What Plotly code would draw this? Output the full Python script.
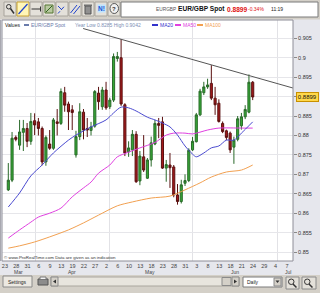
import plotly.graph_objects as go

# ---------------- data ----------------
date_labels = ["23", "28", "31", "6", "9", "13", "19", "22", "27", "2", "6", "10", "13",
               "18", "23", "28", "31", "3", "8", "13", "18", "21", "24", "29", "4", "7"]
month_labels = ["Mar", "Apr", "May", "Jun", "Jul"]
month_label_idx = [2.8, 17.0, 37.7, 60.3, 74.4]
month_start_idx = [7.1, 27.0, 49.1, 71.5]

opens = [0.8660, 0.8685, 0.8795, 0.8775, 0.8808, 0.8818, 0.8785, 0.8838, 0.8835, 0.8818,
         0.8732, 0.8778, 0.8767, 0.8835, 0.8831, 0.8910, 0.8881, 0.8866, 0.8750, 0.8797,
         0.8860, 0.8818, 0.8813, 0.8824, 0.8909, 0.8874, 0.8917, 0.8874, 0.8891, 0.8998,
         0.9000, 0.8879, 0.8758, 0.8763, 0.8803, 0.8683, 0.8745, 0.8690, 0.8737, 0.8778,
         0.8831, 0.8835, 0.8716, 0.8724, 0.8719, 0.8647, 0.8630, 0.8677, 0.8684, 0.8763,
         0.8784, 0.8853, 0.8910, 0.8925, 0.8934, 0.8896, 0.8883, 0.8831, 0.8812, 0.8806,
         0.8770, 0.8790, 0.8825, 0.8848, 0.8860, 0.8937]
highs = [0.8729, 0.8809, 0.8800, 0.8840, 0.8840, 0.8832, 0.8858, 0.8857, 0.8845, 0.8823,
         0.8800, 0.8814, 0.8845, 0.8868, 0.8921, 0.8925, 0.8887, 0.8878, 0.8812, 0.8883,
         0.8868, 0.8845, 0.8835, 0.8917, 0.8925, 0.8925, 0.8938, 0.8897, 0.9011, 0.9015,
         0.9048, 0.8883, 0.8785, 0.8814, 0.8811, 0.8760, 0.8801, 0.8742, 0.8797, 0.8840,
         0.8845, 0.8848, 0.8737, 0.8755, 0.8724, 0.8675, 0.8686, 0.8700, 0.8767, 0.8796,
         0.8858, 0.8920, 0.8938, 0.8946, 0.8981, 0.8925, 0.8893, 0.8836, 0.8815, 0.8810,
         0.8797, 0.8850, 0.8858, 0.8878, 0.8957, 0.8940]
lows = [0.8657, 0.8680, 0.8785, 0.8763, 0.8760, 0.8770, 0.8776, 0.8801, 0.8800, 0.8723,
        0.8722, 0.8763, 0.8763, 0.8800, 0.8827, 0.8861, 0.8814, 0.8814, 0.8743, 0.8788,
        0.8790, 0.8796, 0.8800, 0.8820, 0.8866, 0.8866, 0.8866, 0.8868, 0.8886, 0.8990,
        0.8876, 0.8747, 0.8745, 0.8747, 0.8678, 0.8672, 0.8706, 0.8688, 0.8720, 0.8775,
        0.8793, 0.8714, 0.8681, 0.8665, 0.8641, 0.8622, 0.8625, 0.8670, 0.8680, 0.8760,
        0.8782, 0.8850, 0.8904, 0.8920, 0.8891, 0.8853, 0.8833, 0.8806, 0.8788, 0.8755,
        0.8727, 0.8785, 0.8815, 0.8842, 0.8857, 0.8891]
closes = [0.8685, 0.8793, 0.8790, 0.8809, 0.8818, 0.8785, 0.8836, 0.8827, 0.8818, 0.8732,
          0.8795, 0.8767, 0.8840, 0.8831, 0.8913, 0.8878, 0.8861, 0.8859, 0.8797, 0.8861,
          0.8814, 0.8814, 0.8822, 0.8913, 0.8887, 0.8917, 0.8871, 0.8891, 0.9003, 0.9003,
          0.8881, 0.8755, 0.8768, 0.8803, 0.8681, 0.8747, 0.8711, 0.8737, 0.8781, 0.8831,
          0.8826, 0.8716, 0.8725, 0.8717, 0.8647, 0.8630, 0.8673, 0.8684, 0.8762, 0.8785,
          0.8853, 0.8914, 0.8925, 0.8930, 0.8896, 0.8879, 0.8836, 0.8810, 0.8795, 0.8763,
          0.8788, 0.8843, 0.8848, 0.8867, 0.8937, 0.8899]

ma20_idx = [0, 3, 6, 9, 12, 16, 18, 22, 26, 28, 30, 32, 34, 37, 39, 41, 43, 45, 47, 49,
            50, 52, 54, 56, 58, 60, 62, 65]
ma20_val = [0.8616, 0.8652, 0.8696, 0.8724, 0.8755, 0.8788, 0.8801, 0.8822, 0.8840, 0.8858,
            0.8873, 0.8871, 0.8863, 0.8847, 0.8840, 0.8832, 0.8822, 0.8801, 0.8773, 0.8752,
            0.8745, 0.8755, 0.8768, 0.8773, 0.8788, 0.8788, 0.8806, 0.8835]

ma50_idx = [0, 3, 6, 8, 11, 14, 17, 20, 22, 24, 27, 29, 32, 35, 39, 42, 44, 47, 49, 53,
            56, 62, 65]
ma50_val = [0.8536, 0.8557, 0.8577, 0.8590, 0.8600, 0.8613, 0.8642, 0.8665, 0.8680, 0.8703,
            0.8724, 0.8745, 0.8757, 0.8768, 0.8782, 0.8801, 0.8806, 0.8806, 0.8804, 0.8814,
            0.8819, 0.8819, 0.8819]

ma100_idx = [0, 3, 7, 11, 16, 20, 24, 29, 33, 38, 43, 47, 51, 54, 58, 62, 65]
ma100_val = [0.8510, 0.8516, 0.8526, 0.8539, 0.8557, 0.8575, 0.8595, 0.8619, 0.8629, 0.8639,
             0.8644, 0.8660, 0.8678, 0.8693, 0.8706, 0.8711, 0.8724]

trend_idx = [19.9, 75.7]
trend_val = [0.90752, 0.89221]

y_ticks = [0.85, 0.855, 0.86, 0.865, 0.87, 0.875, 0.88, 0.885, 0.89, 0.895, 0.9, 0.905]
# the 0.89 label is hidden behind the last-price box in the reference
y_ticktext = ["0.85", "0.855", "0.86", "0.865", "0.87", "0.875", "0.88", "0.885", "",
              "0.895", "0.9", "0.905"]
last_price = 0.8899

# ---------------- layout geometry ----------------
W, H = 320, 293
ML, MR, MT, MB = 2, 27, 20, 32
PW = W - ML - MR
PH = H - MT - MB


def px(x):
    return (x - ML) / PW


def py(y):
    return (MT + PH - y) / PH


FONT = "Liberation Sans, Arial, sans-serif"
shapes = []
annots = []


def rect(x0, y0, x1, y1, fill, line=None, lw=1, layer="above"):
    shapes.append(dict(type="rect", xref="paper", yref="paper",
                       x0=px(x0), x1=px(x1), y0=py(y1), y1=py(y0),
                       fillcolor=fill, layer=layer,
                       line=dict(color=line if line else "rgba(0,0,0,0)", width=lw if line else 0)))


def seg(x0, y0, x1, y1, color, lw=1, dash="solid"):
    shapes.append(dict(type="line", xref="paper", yref="paper",
                       x0=px(x0), x1=px(x1), y0=py(y0), y1=py(y1), layer="above",
                       line=dict(color=color, width=lw, dash=dash)))


def circ(x0, y0, x1, y1, color, fill="rgba(0,0,0,0)", lw=1):
    shapes.append(dict(type="circle", xref="paper", yref="paper",
                       x0=px(x0), x1=px(x1), y0=py(y1), y1=py(y0), layer="above",
                       fillcolor=fill, line=dict(color=color, width=lw)))


def tri(pts, color):
    path = "M " + " L ".join(f"{px(a)},{py(b)}" for a, b in pts) + " Z"
    shapes.append(dict(type="path", xref="paper", yref="paper", path=path,
                       fillcolor=color, line=dict(width=0), layer="above"))


def txt(x, y, s, size=5.5, color="#222", anchor="left", bold=False, bg=None, border=None):
    if bold:
        s = "<b>" + s + "</b>"
    a = dict(x=px(x), y=py(y), xref="paper", yref="paper", text=s, showarrow=False,
             xanchor=anchor, yanchor="middle", font=dict(size=size, color=color, family=FONT),
             borderpad=0)
    if bg:
        a["bgcolor"] = bg
    if border:
        a["bordercolor"] = border
        a["borderwidth"] = 1
    annots.append(a)


# ---------------- top toolbar ----------------
rect(0, 0, 320, 19.5, "#d4d0c8")
btn_x = [4, 17, 30, 43, 56, 69, 82, 95, 108]
for k, bx in enumerate(btn_x):
    if k == 1:
        rect(bx, 2, bx + 12, 16, "#fff6b8", "#c8a230")
    else:
        rect(bx, 2, bx + 12, 16, "#e4e1da", "#a8a49c")
# icons
circ(6.5, 4.5, 11, 9, "#333")
seg(10.5, 8.5, 14, 13.5, "#333", 1.5)
seg(18.5, 14, 27.5, 4, "#2244cc", 1.2)
seg(31.5, 9, 40.5, 9, "#333", 1)
seg(40.5, 6.5, 40.5, 11.5, "#333", 1)
rect(45, 5, 53, 13, "#b8c8a0", "#557733")
seg(46, 12, 52, 6, "#336622", 1)
seg(58, 13.5, 66, 4.5, "#2244cc", 1, "dot")
seg(58, 6, 62, 10, "#2244cc", 1)
seg(70.5, 13, 77, 5, "#2244cc", 1)
seg(73.5, 14, 80, 6, "#2244cc", 1)
rect(85, 6, 91, 14, "#909090", "#555")
rect(84, 4.5, 92, 6, "#707070")
txt(101, 9, "N!", 6.5, "#1a55d0", "center", True, bg="#bfe4ff")
circ(110, 3.5, 118.5, 13.5, "#555", "#f0f0f0")
txt(114.3, 8.6, "?", 6, "#333", "center", True)
rect(121, 2, 318, 17, "#ffffff", "#7a7a7a")
txt(155, 9.5, "EURGBP", 4.8, "#555")
txt(177, 9.5, "EUR/GBP Spot", 6.6, "#111", bold=True)
txt(226, 9.5, "0.8899", 6.6, "#e01010", bold=True)
txt(247, 9.5, "-0.34%", 5, "#e01010")
txt(270, 9.5, "11:19", 5, "#222")

# ---------------- legend row ----------------
txt(4, 25, "Values", 5, "#111")
seg(24, 25, 29, 25, "#6a7cab", 2)
txt(30, 25, "EUR/GBP Spot", 5, "#6a7cab")
txt(74, 25, "Year Low 0.8285 High 0.9042", 5, "#7d8fb5")
seg(152, 25, 158, 25, "#3333cc", 2)
txt(159, 25, "MA20", 5, "#3333cc")
seg(175, 25, 181, 25, "#e040e0", 2)
txt(182, 25, "MA50", 5, "#e040e0")
seg(197, 25, 203, 25, "#f2a050", 2)
txt(204, 25, "MA100", 5, "#f2a050")

# footnote
txt(3, 257.5, "© www.ProRealTime.com Data are given as an indication", 4.4, "#333")

# plot frame
rect(2, 20, 293, 261, "rgba(0,0,0,0)", "#8e8e98", 1)
seg(0.5, 20, 0.5, 261, "#a8a8b0", 1)

# month labels (placed on category positions)
for lab, mi in zip(month_labels, month_label_idx):
    annots.append(dict(x=mi, y=py(271.5), xref="x", yref="paper", text=lab,
                       showarrow=False, xanchor="center", yanchor="middle",
                       font=dict(size=5, color="#444", family=FONT)))

# last price label
annots.append(dict(x=px(295.5), y=last_price, xref="paper", yref="y",
                   text=f"{last_price:.4f}", showarrow=False, xanchor="left",
                   yanchor="middle", font=dict(size=6, color="#111", family=FONT),
                   bgcolor="#ffd84a", bordercolor="#c89000", borderwidth=1, borderpad=0.8))

# ---------------- bottom toolbar ----------------
rect(0, 275, 320, 293, "#d4d0c8")
rect(3, 276, 32, 287, "#ece9e2", "#8a8a8a")
txt(17.5, 281.5, "Settings", 5, "#222", "center")
rect(38, 279, 48, 285, "#8c8c8c", "#555")
rect(40, 277, 46, 279.5, "#f4f4f4", "#777")
rect(51, 277, 239, 286, "#e8e5de", "#aaa69e")
rect(51, 277, 58, 286, "#d4d0c8", "#8a8a8a")
tri([(53, 281.5), (56, 279.5), (56, 283.5)], "#333")
rect(232, 277, 239, 286, "#d4d0c8", "#8a8a8a")
tri([(237, 281.5), (234, 279.5), (234, 283.5)], "#333")
rect(222, 277.5, 231, 285.5, "#d4d0c8", "#8a8a8a")
rect(243, 277, 282, 287, "#ffffff", "#7a7a7a")
txt(246, 282, "Daily", 5, "#222")
rect(274, 278, 281, 286, "#d4d0c8", "#8a8a8a")
tri([(275.5, 280.5), (279.5, 280.5), (277.5, 283)], "#333")
rect(286, 277, 299, 289, "#e4e1da", "#8a8a8a")
circ(288.5, 279, 294, 284.5, "#333")
seg(293, 284, 296.5, 287.5, "#333", 1.5)
rect(302, 277, 316, 289, "#e4e1da", "#8a8a8a")
circ(304.5, 279, 310, 284.5, "#333")
seg(309, 284, 312.5, 287.5, "#333", 1.5)

# ---------------- traces ----------------
idx = list(range(len(opens)))
fig = go.Figure()
fig.add_trace(go.Scatter(x=ma100_idx, y=ma100_val, mode="lines",
                         line=dict(color="#f2a050", width=1, shape="spline", smoothing=0.8),
                         hoverinfo="skip"))
fig.add_trace(go.Scatter(x=ma50_idx, y=ma50_val, mode="lines",
                         line=dict(color="#e040e0", width=1, shape="spline", smoothing=0.8),
                         hoverinfo="skip"))
fig.add_trace(go.Scatter(x=ma20_idx, y=ma20_val, mode="lines",
                         line=dict(color="#4a4ad0", width=1, shape="spline", smoothing=0.8),
                         hoverinfo="skip"))
fig.add_trace(go.Candlestick(
    x=idx, open=opens, high=highs, low=lows, close=closes,
    increasing=dict(fillcolor="#35a835", line=dict(color="#2a6a2a", width=1)),
    decreasing=dict(fillcolor="#a3191b", line=dict(color="#5a1010", width=1)),
    whiskerwidth=0, hoverinfo="skip"))
fig.add_trace(go.Scatter(x=trend_idx, y=trend_val, mode="lines",
                         line=dict(color="#555555", width=1), hoverinfo="skip"))

tick_pos = [3 * k - 0.9 for k in range(len(date_labels))]

fig.update_layout(
    width=W, height=H, autosize=False,
    margin=dict(l=ML, r=MR, t=MT, b=MB, pad=0),
    paper_bgcolor="#e6e7ed", plot_bgcolor="#ffffff",
    showlegend=False, boxgap=0.2,
    font=dict(family=FONT, size=6, color="#333"),
    shapes=shapes, annotations=annots,
    xaxis=dict(range=[(ML - 8.3) / 3.76, (ML + PW - 8.3) / 3.76],
               tickmode="array", tickvals=tick_pos, ticktext=date_labels,
               tickfont=dict(size=5.5, color="#444", family=FONT),
               showgrid=False, zeroline=False, ticks="", ticklen=0,
               rangeslider=dict(visible=False), fixedrange=True,
               minor=dict(tickmode="array", tickvals=month_start_idx, showgrid=True,
                          gridcolor="#e2e2e6", gridwidth=1, ticks="")),
    yaxis=dict(range=[0.84770, 0.90971], side="right", tickmode="array",
               tickvals=y_ticks, ticktext=y_ticktext,
               tickfont=dict(size=5.5, color="#333", family=FONT),
               ticks="outside", ticklen=3, tickcolor="#888", tickwidth=1,
               showgrid=True, gridcolor="#e6e6ea", gridwidth=1, zeroline=False,
               fixedrange=True),
)

fig.write_html("out.html", config=dict(displayModeBar=False, staticPlot=True))
